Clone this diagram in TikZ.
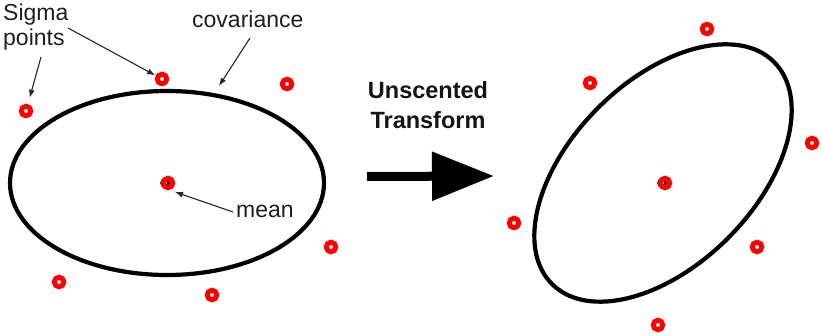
\documentclass[tikz,border=0pt]{standalone}
\usepackage{fontspec}
\setmainfont{Liberation Sans}
\usetikzlibrary{arrows.meta}
\begin{document}
\begin{tikzpicture}[x=1pt,y=-1pt,
  sigma/.style={circle, draw=red, line width=5pt, minimum size=9.5pt, inner sep=0pt, outer sep=0pt},
  meandot/.style={circle, draw=black, line width=2.5pt, minimum size=7pt, inner sep=0pt},
  cov/.style={draw=black, line width=4.2pt},
  annot/.style={draw=black!85, line width=1.1pt, -{Latex[length=8pt,width=6pt]}},
  tag/.style={font=\fontsize{23}{25}\selectfont, inner sep=0pt, text=black!88},
  title/.style={font=\fontsize{23.5}{30}\selectfont\bfseries, inner sep=0pt, align=center, text=black!92},
  bigarrow/.style={draw=black, line width=9pt, -{Triangle[length=62pt,width=47pt]}}
]
\useasboundingbox (0,0) rectangle (822,336);

% ---- prior distribution ----
\draw[cov] (167,183) ellipse [x radius=157, y radius=92];
\node[meandot] (m0) at (165,183) {};
\node[sigma] (mL) at (168,183) {};
\node[sigma] (s1) at (162,79) {};
\node[sigma] (s2) at (287,84) {};
\node[sigma] (s3) at (26,111) {};
\node[sigma] (s4) at (331,247) {};
\node[sigma] (s5) at (59,282) {};
\node[sigma] (s6) at (212,295) {};

% ---- labels ----
\node[tag, anchor=north west, align=left] (sp) at (3,4) {Sigma\\points};
\node[tag, anchor=base west] (cv) at (192,28) {covariance};
\node[tag, anchor=base west] (mn) at (236,218) {mean};

\coordinate (a1) at (41,57);
\coordinate (a2) at (68,28);
\coordinate (a3) at (250,38);
\coordinate (c3) at (219,86);
\coordinate (a4) at (233,212);
\coordinate (c4) at (175,192);
\draw[annot, shorten >=9pt] (a1) -- (s3);
\draw[annot, shorten >=3pt] (a2) -- (s1);
\draw[annot] (a3) -- (c3);
\draw[annot] (a4) -- (c4);

% ---- transform ----
\node[title, anchor=north] (ut) at (428,81.5) {Unscented\\Transform};
\coordinate (ua) at (367,176.5);
\coordinate (ub) at (494,176);
\draw[bigarrow] (ua) -- (ub);

% ---- transformed distribution ----
\draw[cov, rotate around={45:(663,173)}] (663,173) ellipse [x radius=157, y radius=92];
\node[meandot] (m1) at (662,183) {};
\node[sigma] (mR) at (665,183) {};
\node[sigma] (t1) at (707,29) {};
\node[sigma] (t2) at (590,83) {};
\node[sigma] (t3) at (812,143) {};
\node[sigma] (t4) at (514,223) {};
\node[sigma] (t5) at (757,247) {};
\node[sigma] (t6) at (658,325) {};
\end{tikzpicture}
\end{document}
